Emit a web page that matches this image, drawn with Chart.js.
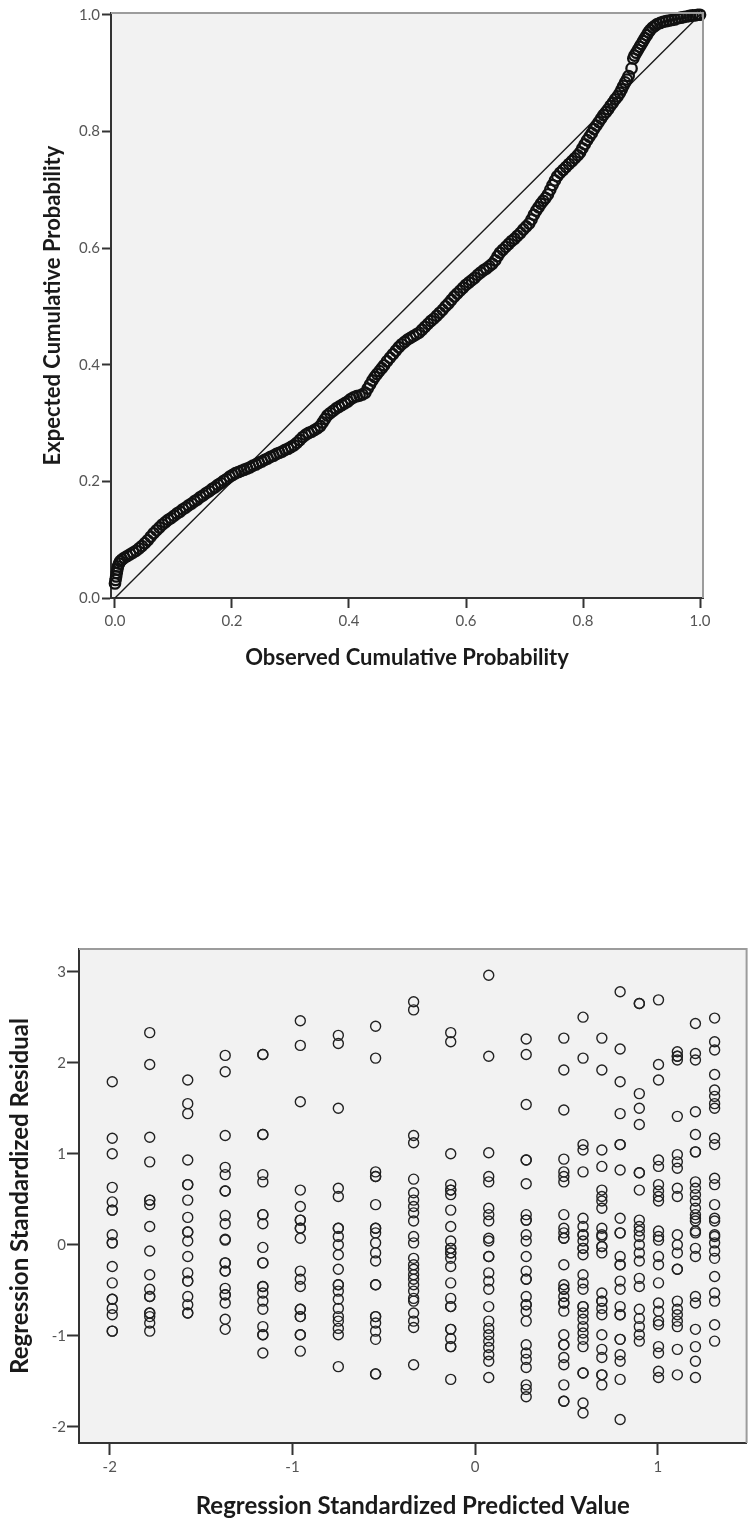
<!DOCTYPE html>
<html>
<head>
<meta charset="utf-8">
<script src="https://cdn.jsdelivr.net/npm/chart.js@4.4.0/dist/chart.umd.min.js"></script>
<style>
  html, body { margin: 0; padding: 0; background: #ffffff; }
  body { width: 753px; height: 1523px; position: relative; overflow: hidden; }
  .panel { position: absolute; left: 0; }
  #ppPanel { top: 0; width: 753px; height: 700px; }
  #resPanel { top: 870px; width: 753px; height: 653px; }
  canvas { display: block; }
</style>
</head>
<body>
<div class="panel" id="ppPanel"><canvas id="ppChart" width="753" height="700"></canvas></div>
<div class="panel" id="resPanel"><canvas id="resChart" width="753" height="653"></canvas></div>
<script>
// ---------- Normal P-P plot of the regression residuals ----------
const ppObserved = [
  0.000, 0.001, 0.002, 0.003, 0.004, 0.005, 0.007, 0.009, 0.012, 0.016,
  0.021, 0.026, 0.031, 0.036, 0.041, 0.046, 0.051, 0.056, 0.061, 0.066,
  0.071, 0.076, 0.081, 0.086, 0.091, 0.096, 0.101, 0.106, 0.111, 0.116,
  0.121, 0.126, 0.131, 0.136, 0.141, 0.146, 0.151, 0.156, 0.161, 0.166,
  0.171, 0.176, 0.181, 0.186, 0.191, 0.196, 0.201, 0.206, 0.211, 0.216,
  0.221, 0.226, 0.231, 0.236, 0.241, 0.246, 0.251, 0.256, 0.261, 0.266,
  0.271, 0.276, 0.281, 0.286, 0.291, 0.296, 0.301, 0.306, 0.311, 0.316,
  0.321, 0.326, 0.331, 0.336, 0.341, 0.346, 0.351, 0.355, 0.359, 0.363,
  0.368, 0.373, 0.378, 0.383, 0.388, 0.393, 0.398, 0.403, 0.408, 0.413,
  0.418, 0.423, 0.428, 0.432, 0.436, 0.440, 0.444, 0.448, 0.452, 0.456,
  0.460, 0.465, 0.470, 0.475, 0.480, 0.485, 0.490, 0.495, 0.500, 0.505,
  0.510, 0.515, 0.520, 0.525, 0.530, 0.535, 0.540, 0.545, 0.550, 0.555,
  0.560, 0.565, 0.570, 0.575, 0.580, 0.585, 0.590, 0.595, 0.600, 0.605,
  0.610, 0.615, 0.620, 0.625, 0.630, 0.635, 0.640, 0.645, 0.650, 0.654,
  0.658, 0.663, 0.668, 0.673, 0.678, 0.683, 0.688, 0.693, 0.698, 0.703,
  0.708, 0.712, 0.716, 0.720, 0.724, 0.728, 0.732, 0.736, 0.740, 0.744,
  0.748, 0.752, 0.756, 0.761, 0.766, 0.771, 0.776, 0.781, 0.786, 0.791,
  0.795, 0.799, 0.803, 0.807, 0.811, 0.815, 0.819, 0.823, 0.827, 0.831,
  0.835, 0.839, 0.843, 0.847, 0.851, 0.855, 0.859, 0.863, 0.866, 0.869,
  0.872, 0.875, 0.878, 0.883, 0.886, 0.888, 0.891, 0.894, 0.897, 0.900,
  0.903, 0.906, 0.909, 0.912, 0.915, 0.919, 0.923, 0.927, 0.932, 0.937,
  0.942, 0.947, 0.952, 0.957, 0.962, 0.967, 0.972, 0.977, 0.982, 0.987,
  0.992, 0.996, 1.000
];
const ppExpected = [
  0.025, 0.031, 0.037, 0.043, 0.049, 0.054, 0.059, 0.063, 0.066, 0.069,
  0.072, 0.075, 0.078, 0.081, 0.085, 0.089, 0.094, 0.099, 0.105, 0.111,
  0.116, 0.121, 0.126, 0.130, 0.134, 0.137, 0.141, 0.145, 0.148, 0.152,
  0.155, 0.159, 0.162, 0.166, 0.169, 0.173, 0.176, 0.180, 0.183, 0.187,
  0.190, 0.194, 0.197, 0.201, 0.204, 0.208, 0.211, 0.214, 0.216, 0.218,
  0.220, 0.222, 0.224, 0.227, 0.229, 0.232, 0.234, 0.237, 0.239, 0.242,
  0.244, 0.247, 0.249, 0.251, 0.254, 0.256, 0.259, 0.262, 0.266, 0.271,
  0.276, 0.280, 0.283, 0.285, 0.288, 0.291, 0.295, 0.301, 0.307, 0.313,
  0.317, 0.321, 0.325, 0.328, 0.331, 0.334, 0.337, 0.341, 0.344, 0.346,
  0.347, 0.349, 0.352, 0.359, 0.366, 0.373, 0.379, 0.384, 0.389, 0.394,
  0.399, 0.406, 0.412, 0.418, 0.424, 0.430, 0.435, 0.439, 0.443, 0.446,
  0.449, 0.452, 0.455, 0.460, 0.465, 0.470, 0.475, 0.479, 0.484, 0.489,
  0.494, 0.500, 0.505, 0.511, 0.517, 0.522, 0.527, 0.532, 0.537, 0.541,
  0.545, 0.549, 0.554, 0.558, 0.562, 0.565, 0.569, 0.573, 0.579, 0.586,
  0.592, 0.597, 0.602, 0.607, 0.612, 0.616, 0.621, 0.626, 0.632, 0.637,
  0.642, 0.649, 0.657, 0.664, 0.670, 0.676, 0.681, 0.686, 0.692, 0.700,
  0.708, 0.716, 0.723, 0.729, 0.734, 0.739, 0.744, 0.749, 0.754, 0.759,
  0.764, 0.771, 0.778, 0.785, 0.791, 0.797, 0.804, 0.810, 0.816, 0.822,
  0.828, 0.833, 0.838, 0.844, 0.849, 0.855, 0.860, 0.866, 0.872, 0.878,
  0.884, 0.889, 0.895, 0.908, 0.925, 0.930, 0.935, 0.940, 0.945, 0.950,
  0.955, 0.960, 0.965, 0.970, 0.974, 0.978, 0.981, 0.984, 0.986, 0.988,
  0.989, 0.990, 0.991, 0.992, 0.994, 0.995, 0.996, 0.997, 0.998, 0.999,
  0.999, 1.000, 1.000
];
const ppTicks = [0.0, 0.2, 0.4, 0.6, 0.8, 1.0];
const referenceLine = [0, 1];

// ---------- Standardized residuals against standardized predicted values ----------
const predictedLevels = [
  -1.986, -1.781, -1.573, -1.368, -1.162, -0.957, -0.749, -0.545, -0.337, -0.134,
   0.074,  0.279,  0.485,  0.590,  0.693,  0.793,  0.898,  1.003,  1.106,  1.205, 1.310
];
const residualColumns = [
  [1.79, 1.17, 1.00, 0.63, 0.47, 0.38, 0.38, 0.11, 0.02, 0.02, -0.24, -0.42, -0.60, -0.60, -0.70, -0.77, -0.95, -0.95],
  [2.33, 1.98, 1.18, 0.91, 0.49, 0.49, 0.44, 0.20, -0.07, -0.33, -0.49, -0.57, -0.57, -0.75, -0.75, -0.79, -0.86, -0.95],
  [1.81, 1.55, 1.44, 0.93, 0.66, 0.66, 0.49, 0.30, 0.14, 0.14, 0.04, -0.13, -0.31, -0.40, -0.40, -0.57, -0.66, -0.75, -0.75],
  [2.08, 1.90, 1.20, 0.85, 0.77, 0.59, 0.59, 0.32, 0.23, 0.06, 0.05, -0.20, -0.20, -0.29, -0.29, -0.48, -0.55, -0.55, -0.64, -0.82, -0.93],
  [2.09, 2.09, 1.21, 1.21, 0.77, 0.69, 0.33, 0.33, 0.23, -0.03, -0.20, -0.20, -0.46, -0.46, -0.53, -0.62, -0.71, -0.90, -0.99, -0.99, -1.19],
  [2.46, 2.19, 1.57, 0.60, 0.42, 0.27, 0.27, 0.18, 0.18, 0.07, -0.29, -0.38, -0.46, -0.71, -0.71, -0.79, -0.79, -0.99, -0.99, -1.17],
  [2.30, 2.21, 1.50, 0.62, 0.53, 0.18, 0.18, 0.09, 0.00, -0.11, -0.27, -0.44, -0.44, -0.51, -0.60, -0.70, -0.79, -0.84, -0.92, -0.99, -1.34],
  [2.40, 2.05, 0.80, 0.75, 0.75, 0.44, 0.18, 0.18, 0.13, 0.02, -0.09, -0.18, -0.44, -0.44, -0.79, -0.79, -0.86, -0.95, -1.04, -1.42, -1.42],
  [2.67, 2.58, 1.20, 1.12, 0.72, 0.57, 0.49, 0.42, 0.35, 0.26, 0.09, 0.02, -0.15, -0.22, -0.27, -0.33, -0.38, -0.44, -0.51, -0.59, -0.62, -0.75, -0.84, -0.91, -1.32],
  [2.33, 2.23, 1.00, 0.66, 0.60, 0.60, 0.55, 0.38, 0.20, 0.04, -0.04, -0.04, -0.09, -0.09, -0.15, -0.24, -0.42, -0.59, -0.68, -0.68, -0.93, -0.93, -1.03, -1.12, -1.12, -1.48],
  [2.96, 2.07, 1.01, 0.75, 0.69, 0.40, 0.33, 0.26, 0.07, 0.04, -0.13, -0.13, -0.31, -0.40, -0.49, -0.68, -0.84, -0.92, -0.99, -1.06, -1.13, -1.21, -1.28, -1.46],
  [2.26, 2.09, 1.54, 0.93, 0.93, 0.67, 0.33, 0.27, 0.27, 0.11, 0.04, -0.13, -0.29, -0.38, -0.38, -0.57, -0.66, -0.66, -0.73, -0.84, -1.10, -1.19, -1.26, -1.35, -1.54, -1.59, -1.67],
  [2.27, 1.92, 1.48, 0.94, 0.80, 0.75, 0.69, 0.33, 0.18, 0.13, 0.07, 0.07, -0.22, -0.44, -0.49, -0.49, -0.57, -0.64, -0.64, -0.73, -0.99, -1.10, -1.10, -1.24, -1.32, -1.54, -1.72, -1.72],
  [2.50, 2.05, 1.10, 1.04, 0.80, 0.29, 0.20, 0.11, 0.11, 0.04, -0.04, -0.04, -0.11, -0.33, -0.42, -0.49, -0.68, -0.68, -0.75, -0.82, -0.90, -0.97, -1.04, -1.12, -1.41, -1.41, -1.74, -1.85],
  [2.27, 1.92, 1.04, 0.86, 0.60, 0.53, 0.48, 0.40, 0.18, 0.11, 0.09, -0.02, -0.02, -0.09, -0.53, -0.62, -0.62, -0.70, -0.77, -0.99, -1.15, -1.24, -1.43, -1.43, -1.54],
  [2.78, 2.15, 1.79, 1.44, 1.10, 1.10, 0.82, 0.29, 0.13, 0.13, -0.13, -0.22, -0.22, -0.40, -0.49, -0.68, -0.77, -0.77, -1.04, -1.04, -1.21, -1.28, -1.48, -1.92],
  [2.65, 2.65, 1.66, 1.50, 1.32, 0.79, 0.79, 0.60, 0.27, 0.20, 0.15, 0.09, 0.00, -0.09, -0.18, -0.37, -0.46, -0.71, -0.81, -0.90, -0.99, -1.06],
  [2.69, 1.98, 1.81, 0.93, 0.86, 0.66, 0.59, 0.53, 0.48, 0.15, 0.09, 0.05, -0.13, -0.22, -0.42, -0.64, -0.73, -0.84, -0.88, -1.12, -1.19, -1.39, -1.46],
  [2.12, 2.07, 2.07, 2.03, 1.41, 0.99, 0.91, 0.84, 0.62, 0.53, 0.11, 0.00, -0.09, -0.27, -0.27, -0.62, -0.71, -0.77, -0.84, -0.90, -1.15, -1.43],
  [2.43, 2.10, 2.03, 1.46, 1.21, 1.02, 1.02, 0.69, 0.62, 0.55, 0.48, 0.40, 0.33, 0.29, 0.26, 0.15, 0.13, -0.04, -0.13, -0.57, -0.64, -0.93, -1.12, -1.28, -1.46],
  [2.49, 2.23, 2.14, 1.87, 1.70, 1.63, 1.55, 1.50, 1.17, 1.10, 0.73, 0.66, 0.44, 0.29, 0.26, 0.11, 0.09, 0.02, -0.07, -0.15, -0.35, -0.53, -0.62, -0.88, -1.06]
];
const predictedTicks = [-2, -1, 0, 1];
const residualTicks = [-2, -1, 0, 1, 2, 3];

// Plot-area fill plus the light top/right frame
const plotFrame = {
  id: 'plotFrame',
  beforeDraw(chart, args, opts) {
    const { ctx, chartArea: a } = chart;
    ctx.save();
    ctx.fillStyle = opts.fill;
    ctx.fillRect(a.left, a.top, a.right - a.left, a.bottom - a.top);
    ctx.restore();
  },
  afterDraw(chart, args, opts) {
    const { ctx, chartArea: a } = chart;
    ctx.save();
    ctx.strokeStyle = opts.edge;
    ctx.lineWidth = 2;
    ctx.beginPath();
    ctx.moveTo(a.left, a.top);
    ctx.lineTo(a.right, a.top);
    ctx.lineTo(a.right, a.bottom);
    ctx.stroke();
    ctx.restore();
  }
};

function axis(o) {
  return {
    type: 'linear',
    min: o.min,
    max: o.max,
    afterBuildTicks: s => { s.ticks = o.ticks.map(v => ({ value: v })); },
    afterFit: s => {
      if (o.width !== undefined) s.width = o.width;
      if (o.height !== undefined) s.height = o.height;
    },
    grid: {
      display: true, drawOnChartArea: false, drawTicks: true,
      tickLength: o.tickLength, tickColor: '#333333', tickWidth: 2
    },
    border: { display: true, color: '#333333', width: 2 },
    ticks: {
      color: '#555555', font: { family: 'Lato', size: 15 },
      padding: o.pad, autoSkip: false, maxRotation: 0, callback: o.fmt
    },
    title: {
      display: true, text: o.title, color: '#1a1a1a',
      font: { family: 'Lato', size: o.titleSize, weight: 'bold' },
      padding: o.titlePad
    }
  };
}

function draw() {
  const ppPoints = ppObserved.map((x, i) => ({ x: x, y: ppExpected[i] }));
  const linePoints = referenceLine.map(v => ({ x: v, y: v }));

  new Chart(document.getElementById('ppChart'), {
    type: 'scatter',
    data: {
      datasets: [
        {
          type: 'line', data: linePoints, order: 2,
          borderColor: '#1a1a1a', borderWidth: 1.4, pointRadius: 0, fill: false
        },
        {
          data: ppPoints, order: 1, clip: false,
          pointRadius: 5.2, pointBorderWidth: 2.3,
          pointBorderColor: '#111111', pointBackgroundColor: 'rgba(0,0,0,0)'
        }
      ]
    },
    plugins: [plotFrame],
    options: {
      responsive: false, animation: false, events: [],
      layout: { padding: { top: 13, right: 50, left: 0, bottom: 0 } },
      plugins: {
        legend: { display: false }, tooltip: { enabled: false },
        plotFrame: { fill: '#f2f2f2', edge: '#9c9c9c' }
      },
      scales: {
        x: axis({
          min: -0.0068, max: 1.0051, ticks: ppTicks, height: 102,
          tickLength: 10, pad: 4, fmt: v => v.toFixed(1),
          title: 'Observed Cumulative Probability', titleSize: 22,
          titlePad: { top: 0, bottom: 29 }
        }),
        y: axis({
          min: 0, max: 1.003, ticks: ppTicks, width: 111,
          tickLength: 9, pad: 2, fmt: v => v.toFixed(1),
          title: 'Expected Cumulative Probability', titleSize: 22,
          titlePad: { top: 40, bottom: 0 }
        })
      }
    }
  });

  const residualPoints = [];
  predictedLevels.forEach((x, i) => {
    residualColumns[i].forEach(y => residualPoints.push({ x: x, y: y }));
  });

  new Chart(document.getElementById('resChart'), {
    type: 'scatter',
    data: {
      datasets: [{
        data: residualPoints, clip: false,
        pointRadius: 5, pointBorderWidth: 1.4,
        pointBorderColor: '#222222', pointBackgroundColor: 'rgba(0,0,0,0)'
      }]
    },
    plugins: [plotFrame],
    options: {
      responsive: false, animation: false, events: [],
      layout: { padding: { top: 79, right: 1, left: 0, bottom: 0 } },
      plugins: {
        legend: { display: false }, tooltip: { enabled: false },
        plotFrame: { fill: '#f2f2f2', edge: '#9c9c9c' }
      },
      scales: {
        x: axis({
          min: -2.168, max: 1.485, ticks: predictedTicks, height: 80,
          tickLength: 12, pad: 3, fmt: v => String(v),
          title: 'Regression Standardized Predicted Value', titleSize: 24,
          titlePad: { top: 0, bottom: 2 }
        }),
        y: axis({
          min: -2.179, max: 3.249, ticks: residualTicks, width: 79,
          tickLength: 12, pad: 1, fmt: v => String(v),
          title: 'Regression Standardized Residual', titleSize: 24,
          titlePad: { top: 6, bottom: 0 }
        })
      }
    }
  });
}

Promise.all([
  document.fonts.load('bold 22px Lato'),
  document.fonts.load('15px Lato')
]).then(draw, draw);
</script>
</body>
</html>
